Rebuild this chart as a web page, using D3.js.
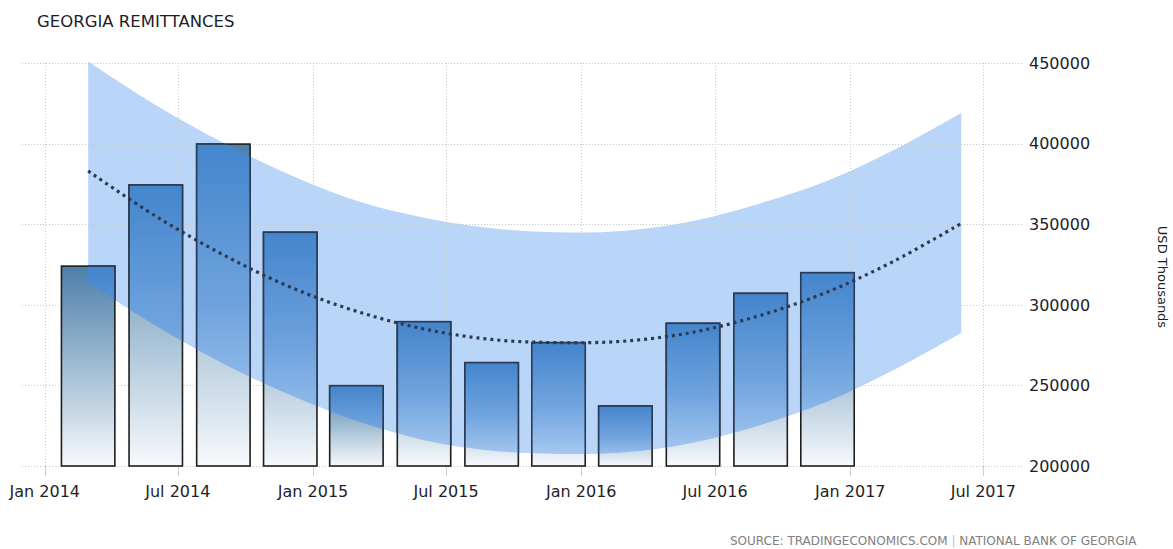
<!DOCTYPE html>
<html>
<head>
<meta charset="utf-8">
<script src="https://cdn.jsdelivr.net/npm/d3@7"></script>
<style>
  body { margin: 0; background: #fff; }
  svg { display: block; font-family: "DejaVu Sans", sans-serif; }
</style>
</head>
<body>
<svg id="chart" width="1173" height="549"></svg>
<script>
// quarterly remittances (bar centres)
const quarterDates = ['2014-03-01', '2014-06-01', '2014-09-01', '2014-12-01',
    '2015-03-01', '2015-06-01', '2015-09-01', '2015-12-01',
    '2016-03-01', '2016-06-01', '2016-09-01', '2016-12-01'];
const remittances = [324000, 374300, 399700, 345000, 249800, 289500,
    264100, 276500, 237200, 288500, 307100, 319900];

// forecast trend + band
const trendDates = quarterDates.concat(['2017-03-01', '2017-06-01']);
const trendValues = [383000, 355000, 331000, 311000, 296000, 285000, 278500,
    276500, 277500, 283000, 293500, 308000, 327000, 350500];
const bandUpper = [451000, 424000, 400500, 380500, 364500, 354000, 347500,
    345000, 346000, 352000, 363000, 377000, 396000, 419000];
const bandLower = [314000, 287000, 263500, 244000, 228000, 216000, 209500,
    207500, 208500, 214500, 225500, 240000, 259500, 282500];

// axes
const yTicks = [200000, 250000, 300000, 350000, 400000, 450000];
const xTickDates = ['2014-01-01', '2014-07-01', '2015-01-01', '2015-07-01',
    '2016-01-01', '2016-07-01', '2017-01-01', '2017-07-01'];
const xTickLabels = ['Jan 2014', 'Jul 2014', 'Jan 2015', 'Jul 2015',
    'Jan 2016', 'Jul 2016', 'Jan 2017', 'Jul 2017'];

const parse = d3.timeParse('%Y-%m-%d');
const svg = d3.select('#chart');

const x = d3.scaleTime()
    .domain([parse('2013-12-01'), parse('2017-08-24')])
    .range([22, 1023]);
const y = d3.scaleLinear()
    .domain([200000, 450000])
    .range([466, 63]);

const bars = quarterDates.map((d, i) => ({ date: parse(d), value: remittances[i] }));
const trend = trendDates.map((d, i) => ({
    date: parse(d), value: trendValues[i], hi: bandUpper[i], lo: bandLower[i]
}));
const barW = (x(bars[1].date) - x(bars[0].date)) * 0.79;

// gradients
const defs = svg.append('defs');
function grad(id, stops) {
    const g = defs.append('linearGradient').attr('id', id)
        .attr('x1', 0).attr('y1', 0).attr('x2', 0).attr('y2', 1);
    stops.forEach(s => g.append('stop').attr('offset', s[0]).attr('stop-color', s[1]));
}
grad('barOut', [[0, '#4d7faa'], [0.5, '#9fbcd2'], [1, '#f7f9fc']]);
grad('barIn', [[0, '#4485cc'], [0.5, '#6fa3de'], [1, '#b2d0f4']]);

const area = d3.area()
    .x(d => x(d.date))
    .y0(d => y(d.lo))
    .y1(d => y(d.hi))
    .curve(d3.curveCatmullRom);

defs.append('clipPath').attr('id', 'bandClip')
    .append('path').attr('d', area(trend));

// band
svg.append('path')
    .attr('d', area(trend))
    .attr('fill', '#b9d5f7');

// grid
const grid = svg.append('g')
    .attr('stroke', '#c8c8c8')
    .attr('stroke-width', 1)
    .attr('stroke-dasharray', '1,2');
grid.selectAll('line.h')
    .data(yTicks)
    .enter().append('line')
    .attr('x1', 22).attr('x2', 1023)
    .attr('y1', d => Math.round(y(d)) + 0.5)
    .attr('y2', d => Math.round(y(d)) + 0.5);
grid.selectAll('line.v')
    .data(xTickDates)
    .enter().append('line')
    .attr('x1', d => Math.round(x(parse(d))) + 0.5)
    .attr('x2', d => Math.round(x(parse(d))) + 0.5)
    .attr('y1', 63).attr('y2', 466);

// x tick marks
svg.append('g').selectAll('line')
    .data(xTickDates)
    .enter().append('line')
    .attr('x1', d => Math.round(x(parse(d))) + 0.5)
    .attr('x2', d => Math.round(x(parse(d))) + 0.5)
    .attr('y1', 466).attr('y2', 476)
    .attr('stroke', '#d0d0d0');

// bars (outside band)
svg.append('g').selectAll('rect')
    .data(bars)
    .enter().append('rect')
    .attr('x', d => x(d.date) - barW / 2)
    .attr('y', d => y(d.value))
    .attr('width', barW)
    .attr('height', d => y(200000) - y(d.value))
    .attr('fill', 'url(#barOut)')
    .attr('stroke', '#1e1e1e')
    .attr('stroke-width', 1.6);

// bars again, where the band covers them
svg.append('g').attr('clip-path', 'url(#bandClip)')
    .selectAll('rect')
    .data(bars)
    .enter().append('rect')
    .attr('x', d => x(d.date) - barW / 2)
    .attr('y', d => y(d.value))
    .attr('width', barW)
    .attr('height', d => y(200000) - y(d.value))
    .attr('fill', 'url(#barIn)')
    .attr('stroke', '#2a3b55')
    .attr('stroke-width', 1.6);

// trend line
svg.append('path')
    .datum(trend)
    .attr('d', d3.line().x(d => x(d.date)).y(d => y(d.value)).curve(d3.curveCatmullRom))
    .attr('fill', 'none')
    .attr('stroke', '#2b3a52')
    .attr('stroke-width', 3.2)
    .attr('stroke-dasharray', '3,4');

// y labels
svg.append('g').selectAll('text')
    .data(yTicks)
    .enter().append('text')
    .attr('x', 1029)
    .attr('y', d => y(d))
    .attr('dy', '0.36em')
    .attr('font-size', 16)
    .attr('fill', '#1e1e28')
    .text(d => d);

// x labels
svg.append('g').selectAll('text')
    .data(xTickDates)
    .enter().append('text')
    .attr('x', d => x(parse(d)))
    .attr('y', 497)
    .attr('text-anchor', 'middle')
    .attr('font-size', 16)
    .attr('fill', '#1e1e28')
    .text((d, i) => xTickLabels[i]);

// axis title
svg.append('text')
    .attr('transform', 'translate(1158,277) rotate(90)')
    .attr('text-anchor', 'middle')
    .attr('font-size', 13)
    .attr('fill', '#1e1e28')
    .text('USD Thousands');

// title
svg.append('text')
    .attr('x', 37).attr('y', 27)
    .attr('font-size', 16.5)
    .attr('fill', '#1e1e28')
    .text('GEORGIA REMITTANCES');

// source
const src = svg.append('text')
    .attr('x', 730).attr('y', 545)
    .attr('font-size', 12)
    .attr('fill', '#808080');
src.append('tspan').text('SOURCE: TRADINGECONOMICS.COM ');
src.append('tspan').attr('fill', '#c0c0c0').text('|');
src.append('tspan').text(' NATIONAL BANK OF GEORGIA');
</script>
</body>
</html>
